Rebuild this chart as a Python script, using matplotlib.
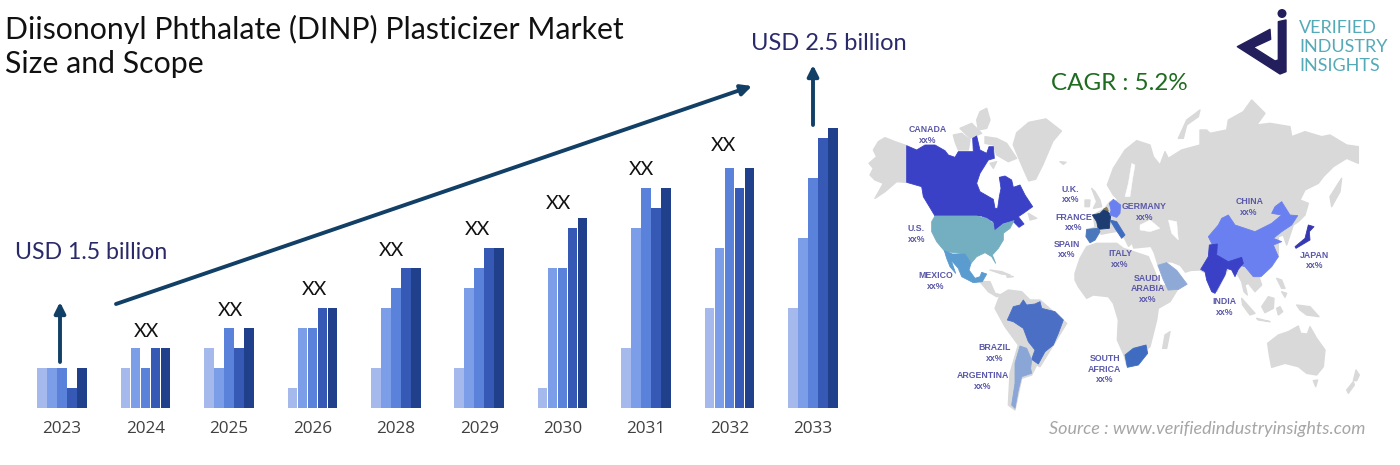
"""Market size infographic: grouped yearly bars plus a regional share map."""
import matplotlib

matplotlib.use("Agg")
import matplotlib.pyplot as plt
import numpy as np
from matplotlib.patches import Circle, Polygon

# ── bar data (units = grid steps) ───────────────────────────────────
years = ["2023", "2024", "2025", "2026", "2028", "2029", "2030", "2031", "2032", "2033"]
tier_1 = [2, 2, 3, 1, 2, 2, 1, 3, 5, 5]
tier_2 = [2, 3, 2, 4, 5, 6, 7, 9, 8, 8.5]
tier_3 = [2, 2, 4, 4, 6, 7, 7, 11, 12, 11.5]
tier_4 = [1, 3, 3, 5, 7, 8, 9, 10, 11, 13.5]
tier_5 = [2, 3, 4, 5, 7, 8, 9.5, 11, 12, 14]
tiers = [tier_1, tier_2, tier_3, tier_4, tier_5]
tier_colors = ["#a5b9ec", "#7c9de8", "#5b82da", "#3559b5", "#21408c"]


def crop(x0, y0, pts, s=3.0):
    # outlines were traced on enlarged crops, bring them back to image pixels
    return [(x0 + x / s, y0 + y / s) for x, y in pts]


# ── map outlines ────────────────────────────────────────────────────
alaska = crop(865, 100, [(125,137),(90,125),(60,113),(40,125),(25,150),(35,170),(12,190),(25,205),(15,225),(30,240),(55,250),(30,295),(60,275),(95,245),(125,247)])
arctic_1 = crop(865, 100, [(335,60),(345,35),(365,25),(375,60),(365,85),(340,90)])
arctic_2 = crop(865, 100, [(285,85),(320,70),(350,100),(315,115)])
arctic_3 = crop(865, 100, [(265,105),(290,100),(315,120),(310,150),(280,150),(270,125)])
baffin = crop(865, 100, [(360,110),(395,115),(425,130),(455,175),(430,185),(395,165),(385,135),(360,130)])
southampton = crop(865, 100, [(375,190),(395,185),(385,205)])
newfoundland = crop(865, 100, [(490,340),(515,355),(495,360)])
greenland = crop(860, 100, [(445,130),(455,95),(490,65),(540,55),(585,90),(560,120),(530,190),(510,230),(490,235),(470,190)], 2.904)
iceland = crop(1050, 100, [(30,185),(48,187),(40,193)])
central_am = crop(930, 260, [(150,65),(180,65),(195,100),(215,105),(200,110),(175,95)])
cuba = crop(930, 260, [(180,30),(215,35),(240,45),(215,42)])
hispaniola = crop(930, 260, [(230,45),(250,50),(232,52)])
south_am = crop(980, 240, [(45,205),(60,165),(85,150),(125,155),(150,180),(180,180),(260,250),(180,380),(170,375),(155,405),(125,415),(105,510),(85,495),(90,400),(115,315),(75,260)])
africa = crop(980, 240, [(285,100),(300,55),(320,20),(350,10),(410,10),(430,25),(505,50),(520,85),(540,135),(595,145),(570,185),(535,205),(530,240),(510,320),(480,345),(440,375),(432,345),(412,300),(415,240),(400,190),(385,170),(340,165),(320,175),(295,140),(285,120)])
madagascar = crop(980, 240, [(555,285),(570,275),(560,325),(548,325)])
eurasia = (
    crop(1050, 100, [(110,390),(135,382),(130,345),(165,325),(180,305),(205,300),(190,285),(172,255),(190,205),(225,150),(260,122),(300,135),(310,170),(330,195),(345,155),(355,175),(395,150),(450,135)])
    + crop(1190, 100, [(30,90),(50,90),(60,100),(110,90),(115,60),(160,35),(185,0),(225,40),(200,75),(240,70),(300,80),(305,110),(345,95),(395,110),(420,105),(470,135),(505,140),(505,190),(470,175),(430,200),(400,230),(385,250),(345,270),(330,300),(355,310),(345,345),(325,365),(310,375),(300,405),(290,435),(280,405),(265,410),(265,470)])
    + crop(1170, 260, [(280,30),(265,45),(275,75),(255,95),(235,70),(225,75),(232,105),(222,95),(215,65),(195,30),(175,25),(140,95),(110,40),(90,30)])
    + crop(860, 100, [(960,495),(945,500),(930,480),(905,470),(885,470),(865,478),(855,445),(845,425),(795,430),(790,415),(780,425),(770,405),(755,380),(725,385),(700,390)], 2.904)
    + crop(1050, 100, [(150,395),(135,420),(120,428),(108,410)])
)
uk = crop(1050, 100, [(125,265),(135,275),(150,300),(155,320),(130,325),(140,305)])
ireland = crop(1050, 100, [(105,300),(120,300),(118,320),(105,320)])
novaya = crop(1050, 100, [(385,115),(410,60),(450,30),(445,50),(410,75),(400,115)])
sakhalin = crop(1190, 100, [(420,290),(445,250),(455,235),(450,275),(425,320)])
sumatra = crop(1170, 260, [(215,115),(255,160),(240,165),(218,135)])
java = crop(1170, 260, [(260,175),(300,185),(265,180)])
borneo = crop(1170, 260, [(275,140),(295,110),(312,115),(310,145),(285,158)])
sulawesi = crop(1170, 260, [(320,145),(330,140),(338,155),(325,165)])
luzon = crop(1170, 260, [(320,55),(335,60),(345,85),(335,85)])
mindanao = crop(1170, 260, [(335,95),(350,100),(345,112)])
new_guinea = crop(1170, 260, [(380,135),(420,140),(447,170),(410,165),(390,150)])
australia = crop(1170, 260, [(293,250),(325,225),(355,215),(385,198),(392,220),(412,222),(420,200),(440,235),(465,270),(460,320),(440,345),(410,340),(385,320),(345,310),(305,322),(298,285)])
tasmania = crop(1170, 260, [(430,362),(443,360),(437,380)])
nz_north = crop(1170, 260, [(558,330),(568,345),(560,362),(550,362)])
nz_south = crop(1170, 260, [(550,365),(553,375),(535,400),(530,390)])
gray_land = [alaska, arctic_1, arctic_2, arctic_3, baffin, southampton, newfoundland, greenland, iceland,
             central_am, cuba, hispaniola, south_am, africa, madagascar, eurasia, uk, ireland, novaya,
             sakhalin, sumatra, java, borneo, sulawesi, luzon, mindanao, new_guinea, australia, tasmania,
             nz_north, nz_south]

black_sea = crop(1050, 100, [(270,375),(300,360),(330,385),(300,395),(270,390)])
caspian = crop(1050, 100, [(355,360),(380,365),(385,420),(365,400)])
bothnia = crop(1050, 100, [(235,250),(245,190),(255,195),(248,235),(240,290),(225,290)])
inland_water = [black_sea, caspian, bothnia]

canada = crop(865, 100, [(125,137),(155,150),(180,135),(210,135),(240,152),(250,165),(270,172),(280,155),(325,155),(323,115),(335,108),(345,150),(365,160),(372,140),(385,140),(388,175),(370,180),(345,220),(335,250),(345,275),(385,298),(390,325),(398,325),(403,290),(408,265),(403,232),(420,228),(440,240),(445,262),(465,255),(480,285),(503,320),(475,340),(460,350),(477,372),(462,382),(445,365),(415,370),(388,393),(385,365),(350,348),(210,348),(175,290),(170,260),(125,247)])
usa = crop(865, 100, [(210,348),(335,348),(365,355),(385,370),(388,393),(415,372),(447,362),(435,385),(415,400),(415,420),(400,445),(382,465),(392,490),(380,470),(360,458),(335,470),(318,490),(300,462),(270,458),(240,455),(215,425),(200,395),(200,365)])
mexico = crop(865, 100, [(238,452),(262,462),(300,462),(318,490),(312,510),(330,535),(345,530),(350,517),(365,522),(352,545),(325,548),(290,530),(280,505),(258,480),(272,520),(255,500),(245,475)])
brazil = crop(980, 240, [(82,240),(100,200),(120,195),(130,180),(140,195),(165,192),(180,185),(185,205),(225,215),(250,240),(235,280),(220,315),(195,335),(175,372),(155,358),(165,330),(145,305),(130,265),(100,245)])
argentina = crop(980, 240, [(120,318),(140,325),(155,360),(152,385),(155,400),(125,410),(115,450),(105,505),(95,495),(105,430),(105,370)])
south_africa = crop(980, 240, [(435,345),(460,325),(498,315),(503,340),(475,375),(442,382)])
saudi = crop(860, 100, [(865,480),(890,472),(920,495),(950,535),(925,550),(895,552),(880,520)], 2.904)
china = crop(1190, 100, [(55,410),(85,375),(95,355),(115,345),(135,375),(195,395),(245,370),(275,345),(245,340),(255,320),(275,305),(300,345),(323,347),(305,375),(275,395),(250,415),(275,425),(250,435),(265,470),(245,500),(213,530),(190,530),(165,500),(130,490),(85,470),(70,440)])
india = crop(1170, 260, [(92,28),(115,-10),(118,-45),(142,-48),(140,-15),(175,5),(215,-8),(220,10),(205,28),(195,50),(185,30),(170,25),(165,45),(135,100),(125,95),(110,60),(105,35)])
japan = crop(1190, 100, [(315,440),(345,415),(350,395),(355,375),(372,380),(358,395),(360,420),(335,435),(318,445)])
france = crop(1050, 100, [(127,345),(150,340),(165,325),(182,345),(178,385),(145,388),(140,365)])
germany = crop(1050, 100, [(178,310),(190,298),(212,315),(210,340),(200,352),(180,345),(183,330)])
spain = crop(1050, 100, [(110,388),(145,385),(150,395),(135,420),(120,428),(108,410)])
italy = crop(1050, 100, [(180,360),(200,365),(225,405),(215,415),(195,385)])
belgium = crop(1050, 100, [(160,328),(170,322),(175,332)])
countries = [(canada, "#3a41c6"), (usa, "#74aec1"), (mexico, "#5a9bd0"), (brazil, "#4a6fc4"),
             (argentina, "#8aa6d6"), (south_africa, "#3f6cc0"), (saudi, "#8fa9d6"), (china, "#6b80f0"),
             (india, "#3a41c6"), (japan, "#3538b0"), (france, "#1d3d72"), (germany, "#6b80f0"),
             (spain, "#4a78bd"), (italy, "#3f6cc0"), (belgium, "#8a7c50")]

map_labels = [("CANADA", 197, 87), ("xx%", 197, 118), ("U.K.", 612, 260), ("xx%", 613, 290),
              ("GERMANY", 826, 310), ("xx%", 826, 340), ("CHINA", 1131, 296), ("xx%", 1130, 327),
              ("FRANCE", 620, 340), ("xx%", 622, 371), ("U.S.", 163, 374), ("xx%", 164, 404),
              ("SPAIN", 601, 420), ("xx%", 601, 450), ("ITALY", 755, 447), ("xx%", 755, 478),
              ("JAPAN", 1320, 451), ("xx%", 1320, 481), ("MEXICO", 221, 511), ("xx%", 221, 541),
              ("SAUDI", 836, 518), ("ARABIA", 836, 548), ("xx%", 836, 579), ("INDIA", 1059, 585),
              ("xx%", 1059, 616), ("BRAZIL", 391, 720), ("xx%", 391, 750), ("ARGENTINA", 357, 800),
              ("xx%", 357, 831), ("SOUTH", 711, 751), ("AFRICA", 711, 782), ("xx%", 711, 812)]

xx_labels = [(146, 331), (230, 310), (314, 289), (391, 250), (477, 229), (558, 203), (641, 169), (723, 145)]

logo_mark = crop(1200, 0, [(112,140),(210,88),(212,118),(160,142),(225,183),(235,180),(235,65),(258,60),(258,215),(240,222)])

fig = plt.figure(figsize=(14, 4.65), dpi=100, facecolor="white")

# overlay in pixel coordinates for the illustration parts
ov = fig.add_axes([0, 0, 1, 1])
ov.set_xlim(0, 1400)
ov.set_ylim(465, 0)
ov.axis("off")

for shape in gray_land:
    ov.add_patch(Polygon(shape, closed=True, fc="#d9d9d9", ec="#d9d9d9", lw=1, joinstyle="round"))
for shape in inland_water:
    ov.add_patch(Polygon(shape, closed=True, fc="white", ec="white", lw=0.3))
for shape, col in countries:
    ov.add_patch(Polygon(shape, closed=True, fc=col, ec=col, lw=0.6, joinstyle="round"))
for label, zx, zy in map_labels:
    (px, py), = crop(860, 100, [(zx, zy)], 2.904)
    ov.text(px, py, label, ha="center", va="center", fontsize=6.3, fontweight="bold",
            family="Liberation Sans", color="#5a58a8")

# bars: 83.45 px between groups, 20 px per unit, baseline at y=408
ax = fig.add_axes([20 / 1400, (465 - 408) / 465, 835 / 1400, 300 / 465])
ax.patch.set_alpha(0)
ax.set_xlim((20 - 62) / 83.45, (855 - 62) / 83.45)
ax.set_ylim(0, 15)
x = np.arange(len(years))
bar_w = 10 / 83.45
for k, (vals, col) in enumerate(zip(tiers, tier_colors)):
    ax.bar(x + (k - 2) * bar_w, vals, width=bar_w * 0.95, color=col)
ax.set_xticks(x, years, fontsize=12.3, fontweight="medium", family="Open Sans", color="#404040")
ax.tick_params(axis="x", length=0, pad=9)
ax.set_yticks([])
for side in ax.spines.values():
    side.set_visible(False)

# trend arrows and text sit above the bars
top = fig.add_axes([0, 0, 1, 1])
top.set_xlim(0, 1400)
top.set_ylim(465, 0)
top.axis("off")
arrow_style = dict(arrowstyle="-|>", color="#123f66", lw=2.8, mutation_scale=16, shrinkA=0, shrinkB=0)
top.annotate("", xy=(752, 86), xytext=(116, 304), arrowprops=arrow_style)
top.annotate("", xy=(60, 302), xytext=(60, 362), arrowprops=arrow_style)
top.annotate("", xy=(813, 65), xytext=(813, 125), arrowprops=arrow_style)

for px, py in xx_labels:
    top.text(px, py, "XX", ha="center", va="center", fontsize=14, family="Lato", color="#111111")

top.text(5, 15, "Diisononyl Phthalate (DINP) Plasticizer Market\nSize and Scope", ha="left", va="top",
         fontsize=21.8, family="Lato", color="#111111", linespacing=1.24)
top.text(15, 252, "USD 1.5 billion", ha="left", va="center", fontsize=16.7, family="Lato", color="#2a2a6a")
top.text(751, 43, "USD 2.5 billion", ha="left", va="center", fontsize=17, family="Lato", color="#2a2a6a")
top.text(1051, 83, "CAGR : 5.2%", ha="left", va="center", fontsize=17.4, family="Lato", color="#1f6b1f")
top.text(1049, 429, "Source : www.verifiedindustryinsights.com", ha="left", va="center", fontsize=13,
         family="Lato", style="italic", color="#a6a6a6")

# logo
top.add_patch(Polygon(logo_mark, closed=True, fc="#231f5c", ec="#231f5c", lw=1, joinstyle="round"))
top.add_patch(Circle((1282, 13.5), 4.5, fc="#231f5c", ec="none"))
top.text(1299, 47, "VERIFIED\nINDUSTRY\nINSIGHTS", ha="left", va="center", fontsize=13, family="Lato",
         color="#55aab8", linespacing=1.22)

fig.savefig("out.png", dpi=100)
